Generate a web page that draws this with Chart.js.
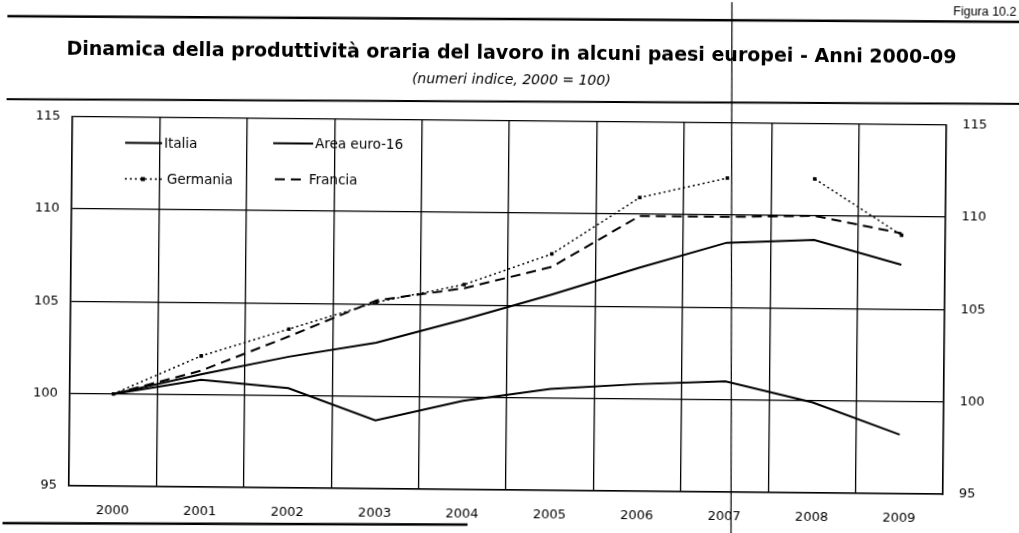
<!DOCTYPE html>
<html>
<head>
<meta charset="utf-8">
<script src="https://cdn.jsdelivr.net/npm/chart.js@4.4.1/dist/chart.umd.min.js"></script>
<style>
  html, body { margin: 0; padding: 0; background: #fff; overflow: hidden; }
  /* the source is a slightly rotated scan */
  #wrap { width: 1019px; height: 533px; transform: rotate(0.55deg); }
</style>
</head>
<body>
<div id="wrap"><canvas id="chart" width="1019" height="533"></canvas></div>
<script>
// Index numbers, 2000 = 100
const years = ['2000', '2001', '2002', '2003', '2004', '2005', '2006', '2007', '2008', '2009'];
const italia = [100, 100.8, 100.4, 98.7, 99.8, 100.5, 100.8, 101.0, 99.9, 98.2];
const areaEuro = [100, 101.1, 102.1, 102.9, 104.2, 105.6, 107.1, 108.5, 108.7, 107.4];
const germania = [100, 102.1, 103.6, 105.1, 106.1, 107.8, 110.9, 112.0, 112.0, 109.0];
const francia = [100, 101.3, 103.2, 105.2, 105.9, 107.1, 109.9, 109.9, 110.0, 109.1];
const yTicks = [95, 100, 105, 110, 115];

const FONT = "'DejaVu Sans', 'Liberation Sans', sans-serif";
const INK = '#000';

// legend drawn inside the plot, two columns, like the printed figure
const legendPlugin = {
  id: 'insideLegend',
  afterDatasetsDraw(chart) {
    const { ctx, chartArea } = chart;
    const slots = [
      { dx: 53, dy: 26, len: 37 },
      { dx: 201, dy: 25, len: 40 },
      { dx: 53, dy: 62, len: 40 },
      { dx: 203, dy: 61, len: 32 },
    ];
    ctx.save();
    ctx.font = `13.5px ${FONT}`;
    ctx.fillStyle = INK;
    ctx.textBaseline = 'middle';
    chart.data.datasets.forEach((ds, i) => {
      const s = slots[i];
      const x = chartArea.left + s.dx;
      const y = chartArea.top + s.dy;
      ctx.strokeStyle = INK;
      ctx.lineWidth = ds.borderWidth;
      ctx.setLineDash(ds.borderDash || []);
      ctx.beginPath();
      ctx.moveTo(x, y);
      ctx.lineTo(x + s.len, y);
      ctx.stroke();
      ctx.setLineDash([]);
      if (ds.pointRadius > 0) {
        ctx.fillRect(x + s.len * 0.45 - 2, y - 2, 4, 4);
      }
      ctx.fillText(ds.label, x + s.len + 2, y + 1);
    });
    ctx.restore();
  },
};

// page furniture: rules, figure number, the fold line of the scan
const pagePlugin = {
  id: 'pageMarks',
  afterDraw(chart) {
    const { ctx } = chart;
    ctx.save();
    ctx.strokeStyle = INK;
    ctx.lineWidth = 2.5;
    ctx.beginPath();
    ctx.moveTo(5, 21);
    ctx.lineTo(1019, 17);
    ctx.stroke();
    ctx.lineWidth = 2;
    ctx.beginPath();
    ctx.moveTo(5, 104);
    ctx.lineTo(1019, 99);
    ctx.stroke();
    ctx.lineWidth = 2.5;
    ctx.beginPath();
    ctx.moveTo(5, 528);
    ctx.lineTo(470, 525);
    ctx.stroke();
    ctx.lineWidth = 1.2;
    ctx.beginPath();
    ctx.moveTo(729.4, 0);
    ctx.lineTo(733.6, 533);
    ctx.stroke();
    ctx.fillStyle = INK;
    ctx.font = "12.5px 'Liberation Sans', sans-serif";
    ctx.textAlign = 'right';
    ctx.textBaseline = 'middle';
    ctx.fillText('Figura 10.2', 1014, 8);
    ctx.restore();
  },
};

const tickFont = { family: FONT, size: 13 };

// eslint-disable-next-line no-undef
new Chart(document.getElementById('chart'), {
  type: 'line',
  data: {
    labels: years,
    datasets: [
      {
        label: 'Italia',
        data: italia,
        borderColor: INK,
        borderWidth: 2,
        pointRadius: 0,
      },
      {
        label: 'Area euro-16',
        data: areaEuro,
        borderColor: INK,
        borderWidth: 2,
        pointRadius: 0,
      },
      {
        label: 'Germania',
        data: germania,
        borderColor: INK,
        borderWidth: 1.5,
        borderDash: [2, 3],
        pointRadius: 2.5,
        pointStyle: 'rect',
        pointBackgroundColor: INK,
        pointBorderWidth: 0,
        // the scan loses this stretch of the line
        segment: { borderColor: (c) => (c.p0DataIndex === 7 ? 'rgba(0,0,0,0)' : undefined) },
      },
      {
        label: 'Francia',
        data: francia,
        borderColor: INK,
        borderWidth: 2,
        borderDash: [10, 6],
        pointRadius: 0,
      },
    ],
  },
  options: {
    responsive: false,
    animation: false,
    layout: { padding: 0 },
    elements: { line: { tension: 0 } },
    plugins: {
      legend: { display: false },
      tooltip: { enabled: false },
      title: {
        display: true,
        text: 'Dinamica della produttività oraria del lavoro in alcuni paesi europei - Anni 2000-09',
        color: INK,
        font: { family: FONT, size: 19, weight: 'bold' },
        padding: { top: 43, bottom: 2 },
      },
      subtitle: {
        display: true,
        text: '(numeri indice, 2000 = 100)',
        color: INK,
        font: { family: FONT, size: 14, style: 'italic' },
        padding: { top: 4, bottom: 32 },
      },
    },
    scales: {
      x: {
        offset: true,
        grid: { offset: true, color: INK, lineWidth: 1.3, drawTicks: false },
        border: { color: INK, width: 1.5 },
        ticks: { color: INK, font: tickFont, padding: 17, maxRotation: 0 },
        afterFit: (s) => { s.height = 43; },
      },
      y: {
        min: 95,
        max: 115,
        grid: { color: INK, lineWidth: 1.3, drawTicks: false },
        border: { color: INK, width: 1.5 },
        afterBuildTicks: (s) => { s.ticks = yTicks.map((v) => ({ value: v })); },
        ticks: { color: INK, font: tickFont, padding: 12 },
        afterFit: (s) => { s.width = 71; },
      },
      y2: {
        position: 'right',
        min: 95,
        max: 115,
        grid: { drawOnChartArea: false, drawTicks: false },
        border: { color: INK, width: 1.5 },
        afterBuildTicks: (s) => { s.ticks = yTicks.map((v) => ({ value: v })); },
        ticks: { color: INK, font: tickFont, padding: 16 },
        afterFit: (s) => { s.width = 74; },
      },
    },
  },
  plugins: [legendPlugin, pagePlugin],
});
</script>
</body>
</html>
